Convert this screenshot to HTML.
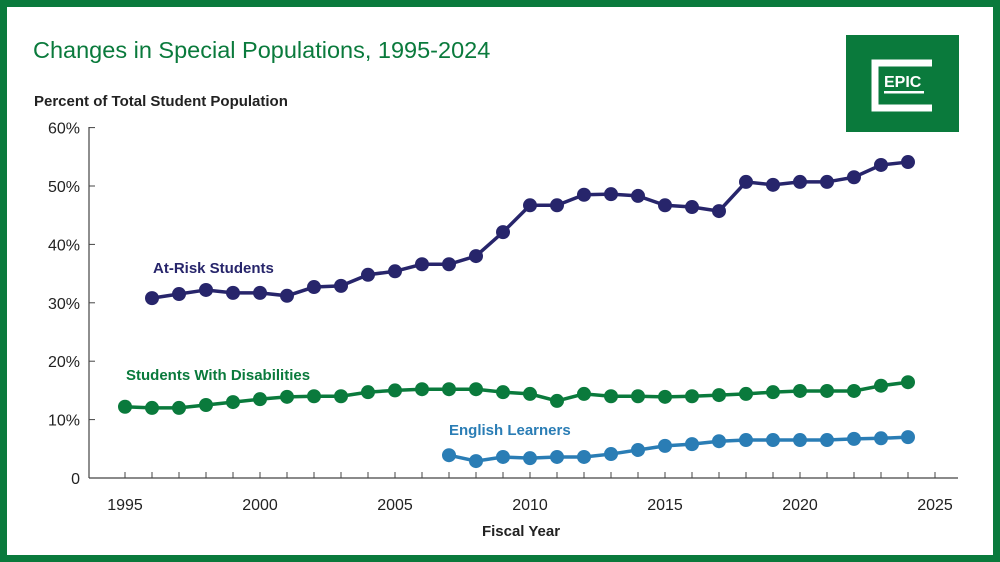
<!DOCTYPE html>
<html><head><meta charset="utf-8"><style>
html,body{margin:0;padding:0;}
body{width:1000px;height:562px;position:relative;background:#fff;font-family:"Liberation Sans",sans-serif;overflow:hidden;}
#frame{position:absolute;left:0;top:0;width:986px;height:548px;border:7px solid #0a7a3c;}
</style></head><body>
<div id="frame"></div>
<svg width="1000" height="562" style="position:absolute;left:0;top:0" id="chart">
<text x="33" y="58" font-size="23.5" fill="#0a7a3c">Changes in Special Populations, 1995-2024</text>
<text x="34" y="106" font-size="15" font-weight="bold" fill="#222">Percent of Total Student Population</text>
<g>
<rect x="846" y="35" width="113" height="97" fill="#0a7a3c"/>
<path d="M932 63 H875 V108 H932" fill="none" stroke="#fff" stroke-width="7"/>
<text x="884" y="87" font-size="16" font-weight="bold" fill="#fff">EPIC</text>
<rect x="884" y="91" width="40" height="2.5" fill="#fff"/>
</g>
<g id="axes"></g>
<g id="marks"></g>
<text x="521" y="536" font-size="15" font-weight="bold" fill="#222" text-anchor="middle">Fiscal Year</text>
</svg>
<script>
const years=[1995,1996,1997,1998,1999,2000,2001,2002,2003,2004,2005,2006,2007,2008,2009,2010,2011,2012,2013,2014,2015,2016,2017,2018,2019,2020,2021,2022,2023,2024];
const atRisk=[null,30.8,31.5,32.2,31.7,31.7,31.2,32.7,32.9,34.8,35.4,36.6,36.6,38,42.1,46.7,46.7,48.5,48.6,48.3,46.7,46.4,45.7,50.7,50.2,50.7,50.7,51.5,53.6,54.1];
const swd=[12.2,12,12,12.5,13,13.5,13.9,14,14,14.7,15,15.2,15.2,15.2,14.7,14.4,13.2,14.4,14,14,13.9,14,14.2,14.4,14.7,14.9,14.9,14.9,15.8,16.4];
const el=[null,null,null,null,null,null,null,null,null,null,null,null,3.9,2.9,3.6,3.4,3.6,3.6,4.1,4.8,5.5,5.8,6.3,6.5,6.5,6.5,6.5,6.7,6.8,7];
const yTicks=[0,10,20,30,40,50,60];
const yTickLabels=["0","10%","20%","30%","40%","50%","60%"];
const xTicks=[1995,2000,2005,2010,2015,2020,2025];
const NS="http://www.w3.org/2000/svg";
const xs=y=>125+(y-1995)*27;
const ys=v=>478-v*5.84;
function mk(tag,attrs,parent){const e=document.createElementNS(NS,tag);for(const k in attrs)e.setAttribute(k,attrs[k]);parent.appendChild(e);return e;}
const ax=document.getElementById('axes'),mg=document.getElementById('marks');
let l=mk('line',{x1:89,y1:127,x2:89,y2:478,stroke:'#444','stroke-width':1.2},ax);


l=mk('line',{x1:89,y1:478,x2:958,y2:478,stroke:'#444','stroke-width':1.2},ax);


yTicks.forEach((v,i)=>{
 mk('line',{x1:89,x2:95,y1:ys(v),y2:ys(v),stroke:'#444'},ax);
 const t=mk('text',{x:80,y:ys(v)+6,'font-size':16,fill:'#222','text-anchor':'end'},ax);t.textContent=yTickLabels[i];
 
 
});
for(let y=1995;y<=2025;y++){mk('line',{x1:xs(y),x2:xs(y),y1:478,y2:472,stroke:'#444'},ax);}
xTicks.forEach(y=>{const t=mk('text',{x:xs(y),y:510,'font-size':16,fill:'#222','text-anchor':'middle'},ax);t.textContent=y;
 
 });
function series(vals,color,name){
 const g=mk('g',{},mg);
 
 
 const pts=[];vals.forEach((v,i)=>{if(v!=null)pts.push([xs(years[i]),ys(v)]);});
 mk('polyline',{points:pts.map(p=>p.join(',')).join(' '),fill:'none',stroke:color,'stroke-width':3.5},g);
 pts.forEach(p=>{const c=mk('circle',{cx:p[0],cy:p[1],r:7,fill:color},g);
  
  });
}
series(atRisk,'#27256b','at-risk-series');
series(swd,'#0a7a3c','disabilities-series');
series(el,'#2a7db5','english-learners-series');
function lab(x,y,txt,c,n){const t=mk('text',{x:x,y:y,'font-size':15,'font-weight':'bold',fill:c},mg);t.textContent=txt;
 
 }
lab(153,273,'At-Risk Students','#27256b','at-risk-label');
lab(126,380,'Students With Disabilities','#0a7a3c','disabilities-label');
lab(449,435,'English Learners','#2a7db5','english-learners-label');
</script>
</body></html>
